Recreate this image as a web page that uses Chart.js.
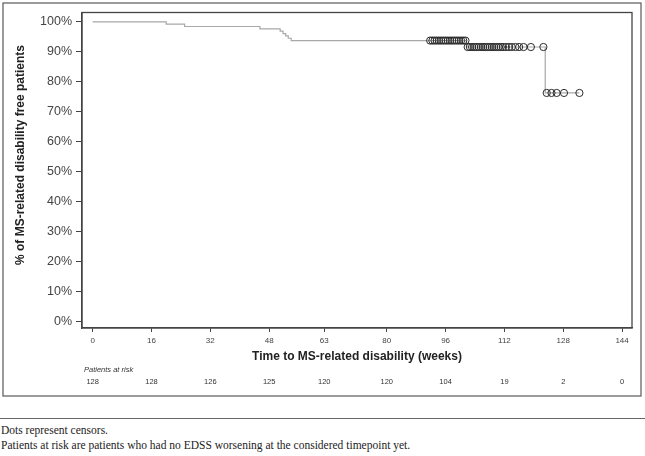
<!DOCTYPE html>
<html>
<head>
<meta charset="utf-8">
<script src="https://cdn.jsdelivr.net/npm/chart.js@4.4.1/dist/chart.umd.min.js"></script>
<style>
  body { margin: 0; background: #fff; }
  #wrap { position: relative; width: 645px; height: 456px; }
  #kmChart { position: absolute; left: 0; top: 0; }
  #rule { position: absolute; left: 0; top: 418px; width: 645px; height: 0; border-top: 1px solid #666; }
  .note { position: absolute; left: 1px; font-family: "Liberation Serif", serif; font-size: 11.5px; color: #222; white-space: nowrap; }
</style>
</head>
<body>
<div id="wrap">
  <canvas id="kmChart" width="645" height="400"></canvas>
  <div id="rule"></div>
  <div class="note" style="top:424px">Dots represent censors.</div>
  <div class="note" style="top:439px">Patients at risk are patients who had no EDSS worsening at the considered timepoint yet.</div>
</div>
<script>
// KM curve: time (weeks) and survival (%) at each step
const curveWeeks = [0, 20, 25, 45.5, 51, 51.8, 52.5, 53.2, 54, 101.7, 123.1, 132.4];
const curvePct   = [100, 99.22, 98.44, 97.66, 96.88, 96.09, 95.31, 94.53, 93.75, 91.6, 76.3, 76.3];

// censored observations
const censorWeeks = [
  91.8, 92.4, 93, 93.6, 94.2, 94.8, 95.4, 96, 96.6, 97.2, 97.8, 98.4, 99, 99.6, 100.2, 100.8, 101.4,
  102, 102.6, 103.2, 103.8, 104.4, 105, 105.6, 106.2, 106.8, 107.4, 108, 108.6, 109.2, 109.8, 110.4,
  111, 111.6, 112.4, 113.2, 114, 115, 116, 117.2, 119.2, 122.6,
  123.5, 124.8, 126.2, 128.2, 132.4
];
const censorPct = [
  93.75, 93.75, 93.75, 93.75, 93.75, 93.75, 93.75, 93.75, 93.75, 93.75, 93.75, 93.75, 93.75, 93.75, 93.75, 93.75, 93.75,
  91.6, 91.6, 91.6, 91.6, 91.6, 91.6, 91.6, 91.6, 91.6, 91.6, 91.6, 91.6, 91.6, 91.6, 91.6,
  91.6, 91.6, 91.6, 91.6, 91.6, 91.6, 91.6, 91.6, 91.6, 91.6,
  76.3, 76.3, 76.3, 76.3, 76.3
];

const tickWeeks  = [0, 16, 32, 48, 63, 80, 96, 112, 128, 144];
const tickLabels = ['0', '16', '32', '48', '63', '80', '96', '112', '128', '144'];
const atRisk     = [128, 128, 126, 125, 120, 120, 104, 19, 2, 0];
const yTitle = '% of MS-related disability free patients';

const tableAndFrame = {
  id: 'tableAndFrame',
  afterDraw(chart) {
    const c = chart.ctx;
    const a = chart.chartArea;
    const xs = chart.scales.x;
    c.save();
    // plot box
    c.strokeStyle = '#444';
    c.lineWidth = 1.3;
    c.strokeRect(a.left, a.top, a.right - a.left, a.bottom - a.top);
    // outer frame
    c.strokeStyle = '#666';
    c.lineWidth = 1.3;
    c.strokeRect(3, 3, 638, 393);
    // y title (sits a bit above the plot centre in the original)
    c.save();
    c.translate(21, 155);
    c.rotate(-Math.PI / 2);
    c.fillStyle = '#222';
    c.font = 'bold 12px "Liberation Sans", Arial, sans-serif';
    c.textAlign = 'center';
    c.textBaseline = 'middle';
    c.fillText(yTitle, 0, 0);
    c.restore();
    // patients at risk
    c.fillStyle = '#333';
    c.font = 'italic 7.5px "Liberation Sans", Arial, sans-serif';
    c.textAlign = 'left';
    c.textBaseline = 'middle';
    c.fillText('Patients at risk', 84, 370);
    c.font = '7.5px "Liberation Sans", Arial, sans-serif';
    c.textAlign = 'center';
    atRisk.forEach((n, i) => {
      c.fillText(String(n), xs.getPixelForValue(tickWeeks[i]), 382);
    });
    c.restore();
  }
};

const ctx = document.getElementById('kmChart').getContext('2d');
const chart = new Chart(ctx, {
  type: 'line',
  data: {
    datasets: [{
      label: 'KM',
      data: curveWeeks.map((w, i) => ({ x: w, y: curvePct[i] })),
      stepped: true,
      borderColor: '#a8a8a8',
      borderWidth: 1.2,
      pointRadius: 0,
      fill: false,
      order: 2
    }, {
      label: 'Censored',
      data: censorWeeks.map((w, i) => ({ x: w, y: censorPct[i] })),
      showLine: false,
      pointStyle: 'circle',
      pointRadius: 3.6,
      pointBorderWidth: 1,
      pointBorderColor: '#2a2a2a',
      pointBackgroundColor: 'rgba(255,255,255,0)',
      order: 1
    }]
  },
  options: {
    responsive: false,
    animation: false,
    layout: { padding: { left: 0, top: 12.5, right: 13, bottom: 32 } },
    plugins: { legend: { display: false }, tooltip: { enabled: false } },
    scales: {
      x: {
        type: 'linear',
        min: -2.9,
        max: 146.7,
        afterBuildTicks: (s) => { s.ticks = tickWeeks.map(v => ({ value: v })); },
        afterFit: (s) => { s.height = 40; },
        grid: { drawOnChartArea: false, drawTicks: true, tickLength: 4, color: '#444', lineWidth: 1 },
        border: { display: true, color: '#444', width: 1.3 },
        ticks: {
          autoSkip: false,
          maxRotation: 0,
          padding: 4,
          color: '#444',
          font: { family: '"Liberation Sans", Arial, sans-serif', size: 8 },
          callback: (v, i) => tickLabels[i]
        },
        title: {
          display: true,
          text: 'Time to MS-related disability (weeks)',
          color: '#222',
          font: { family: '"Liberation Sans", Arial, sans-serif', size: 12, weight: 'bold' },
          padding: { top: 0, bottom: 4 }
        }
      },
      y: {
        min: -2,
        max: 103.1,
        afterBuildTicks: (s) => {
          const t = [];
          for (let v = 0; v <= 100; v += 10) t.push({ value: v });
          s.ticks = t;
        },
        afterFit: (s) => { s.width = 82; },
        grid: { drawOnChartArea: false, drawTicks: true, tickLength: 6, color: '#444', lineWidth: 1 },
        border: { display: true, color: '#444', width: 1.3 },
        ticks: {
          padding: 4,
          color: '#444',
          font: { family: '"Liberation Sans", Arial, sans-serif', size: 12.5 },
          callback: (v) => v + '%'
        },
        title: { display: false }
      }
    }
  },
  plugins: [tableAndFrame]
});
</script>
</body>
</html>
